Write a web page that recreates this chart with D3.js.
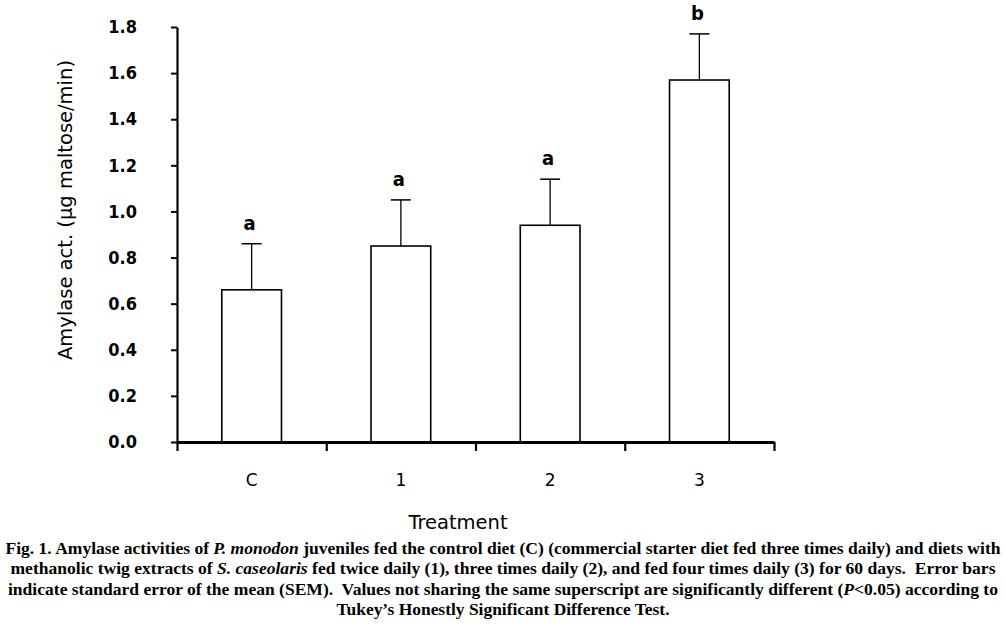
<!DOCTYPE html>
<html>
<head>
<meta charset="utf-8">
<script src="https://cdn.jsdelivr.net/npm/d3@7"></script>
<style>
  body { margin: 0; background: #fff; }
  svg { display: block; }
  .tick text { fill: #000; }
</style>
</head>
<body>
<svg width="1006" height="624"></svg>
<script>
// data
var categories = ["C", "1", "2", "3"];
var means = [0.66, 0.85, 0.94, 1.57];
var sems = [0.20, 0.20, 0.20, 0.20];
var letters = ["a", "a", "a", "b"];
var yTicks = [0, 0.2, 0.4, 0.6, 0.8, 1.0, 1.2, 1.4, 1.6, 1.8];

var svg = d3.select("svg"),
    plotLeft = 177, plotRight = 774, plotTop = 27, plotBottom = 442;

var x = d3.scaleBand()
    .domain(categories)
    .range([plotLeft, plotRight])
    .paddingInner(0.6)
    .paddingOuter(0.3);

var y = d3.scaleLinear()
    .domain([0, 1.8])
    .range([plotBottom, plotTop]);

// boundaries between treatments, for the x tick marks
var xEdge = d3.scaleLinear().domain([0, categories.length]).range([plotLeft, plotRight]);

var bars = svg.append("g").selectAll("g")
    .data(categories)
    .enter().append("g");

bars.append("rect")
    .attr("x", function(d) { return x(d); })
    .attr("y", function(d, i) { return y(means[i]); })
    .attr("width", x.bandwidth())
    .attr("height", function(d, i) { return y(0) - y(means[i]); })
    .attr("fill", "#fff")
    .attr("stroke", "#000")
    .attr("stroke-width", 1.6);

// error bars (upper half only)
bars.append("line")
    .attr("x1", function(d) { return x(d) + x.bandwidth() / 2; })
    .attr("x2", function(d) { return x(d) + x.bandwidth() / 2; })
    .attr("y1", function(d, i) { return y(means[i]); })
    .attr("y2", function(d, i) { return y(means[i] + sems[i]); })
    .attr("stroke", "#000")
    .attr("stroke-width", 1.3);

bars.append("line")
    .attr("x1", function(d) { return x(d) + x.bandwidth() / 2 - 10; })
    .attr("x2", function(d) { return x(d) + x.bandwidth() / 2 + 10; })
    .attr("y1", function(d, i) { return y(means[i] + sems[i]); })
    .attr("y2", function(d, i) { return y(means[i] + sems[i]); })
    .attr("stroke", "#000")
    .attr("stroke-width", 1.5);

bars.append("text")
    .attr("x", function(d) { return x(d) + x.bandwidth() / 2 - 2; })
    .attr("y", function(d, i) { return y(means[i] + sems[i]) - 14; })
    .attr("text-anchor", "middle")
    .style("font-family", "'DejaVu Sans Condensed', 'DejaVu Sans', sans-serif")
    .style("font-weight", "bold")
    .style("font-size", "20px")
    .text(function(d, i) { return letters[i]; });

// y axis
var yAxis = svg.append("g")
    .attr("transform", "translate(" + plotLeft + ",0)")
    .call(d3.axisLeft(y).tickValues(yTicks).tickFormat(d3.format(".1f")).tickSize(6).tickPadding(34).tickSizeOuter(0));
yAxis.select(".domain").attr("stroke-width", 2.2);
yAxis.selectAll(".tick line").attr("stroke-width", 2);
yAxis.selectAll(".tick text")
    .style("font-family", "'DejaVu Sans Condensed', 'DejaVu Sans', sans-serif")
    .style("font-weight", "bold")
    .style("font-size", "18px");

// x axis: tick marks between treatments
var xAxis = svg.append("g")
    .attr("transform", "translate(0," + plotBottom + ")")
    .call(d3.axisBottom(xEdge).tickValues(d3.range(categories.length + 1)).tickFormat("").tickSize(9).tickSizeOuter(0));
xAxis.select(".domain").attr("stroke-width", 2.8);
xAxis.selectAll(".tick line").attr("stroke-width", 2.2);

// category labels
var xLab = svg.append("g")
    .attr("transform", "translate(0," + plotBottom + ")")
    .call(d3.axisBottom(x).tickSize(0).tickPadding(32));
xLab.select(".domain").remove();
xLab.selectAll(".tick text")
    .style("font-family", "'DejaVu Sans', sans-serif")
    .style("font-size", "17px");

// axis titles
svg.append("text")
    .attr("x", 458)
    .attr("y", 529)
    .attr("text-anchor", "middle")
    .style("font-family", "'DejaVu Sans', sans-serif")
    .style("font-size", "19.5px")
    .text("Treatment");

svg.append("text")
    .attr("transform", "translate(72,210) rotate(-90)")
    .attr("text-anchor", "middle")
    .attr("textLength", 300)
    .attr("lengthAdjust", "spacingAndGlyphs")
    .style("font-family", "'DejaVu Sans', sans-serif")
    .style("font-size", "19.5px")
    .text("Amylase act. (µg maltose/min)");

// caption
var caption = [
    { len: 995, parts: [["Fig. 1. Amylase activities of ", 0], ["P. monodon", 1], [" juveniles fed the control diet (C) (commercial starter diet fed three times daily) and diets with", 0]] },
    { len: 985, parts: [["methanolic twig extracts of ", 0], ["S. caseolaris", 1], [" fed twice daily (1), three times daily (2), and fed four times daily (3) for 60 days.\u00a0 Error bars", 0]] },
    { len: 990, parts: [["indicate standard error of the mean (SEM).\u00a0 Values not sharing the same superscript are significantly different (", 0], ["P", 1], ["<0.05) according to", 0]] },
    { len: 333, parts: [["Tukey\u2019s Honestly Significant Difference Test.", 0]] }
];

var capText = svg.append("g").selectAll("text")
    .data(caption)
    .enter().append("text")
    .attr("x", 503)
    .attr("y", function(d, i) { return 554 + i * 20.3; })
    .attr("text-anchor", "middle")
    .attr("textLength", function(d) { return d.len; })
    .attr("lengthAdjust", "spacingAndGlyphs")
    .style("font-family", "'Liberation Serif', 'Times New Roman', serif")
    .style("font-weight", "bold")
    .style("font-size", "16.5px");

capText.selectAll("tspan")
    .data(function(d) { return d.parts; })
    .enter().append("tspan")
    .style("font-style", function(p) { return p[1] ? "italic" : "normal"; })
    .text(function(p) { return p[0]; });
</script>
</body>
</html>
